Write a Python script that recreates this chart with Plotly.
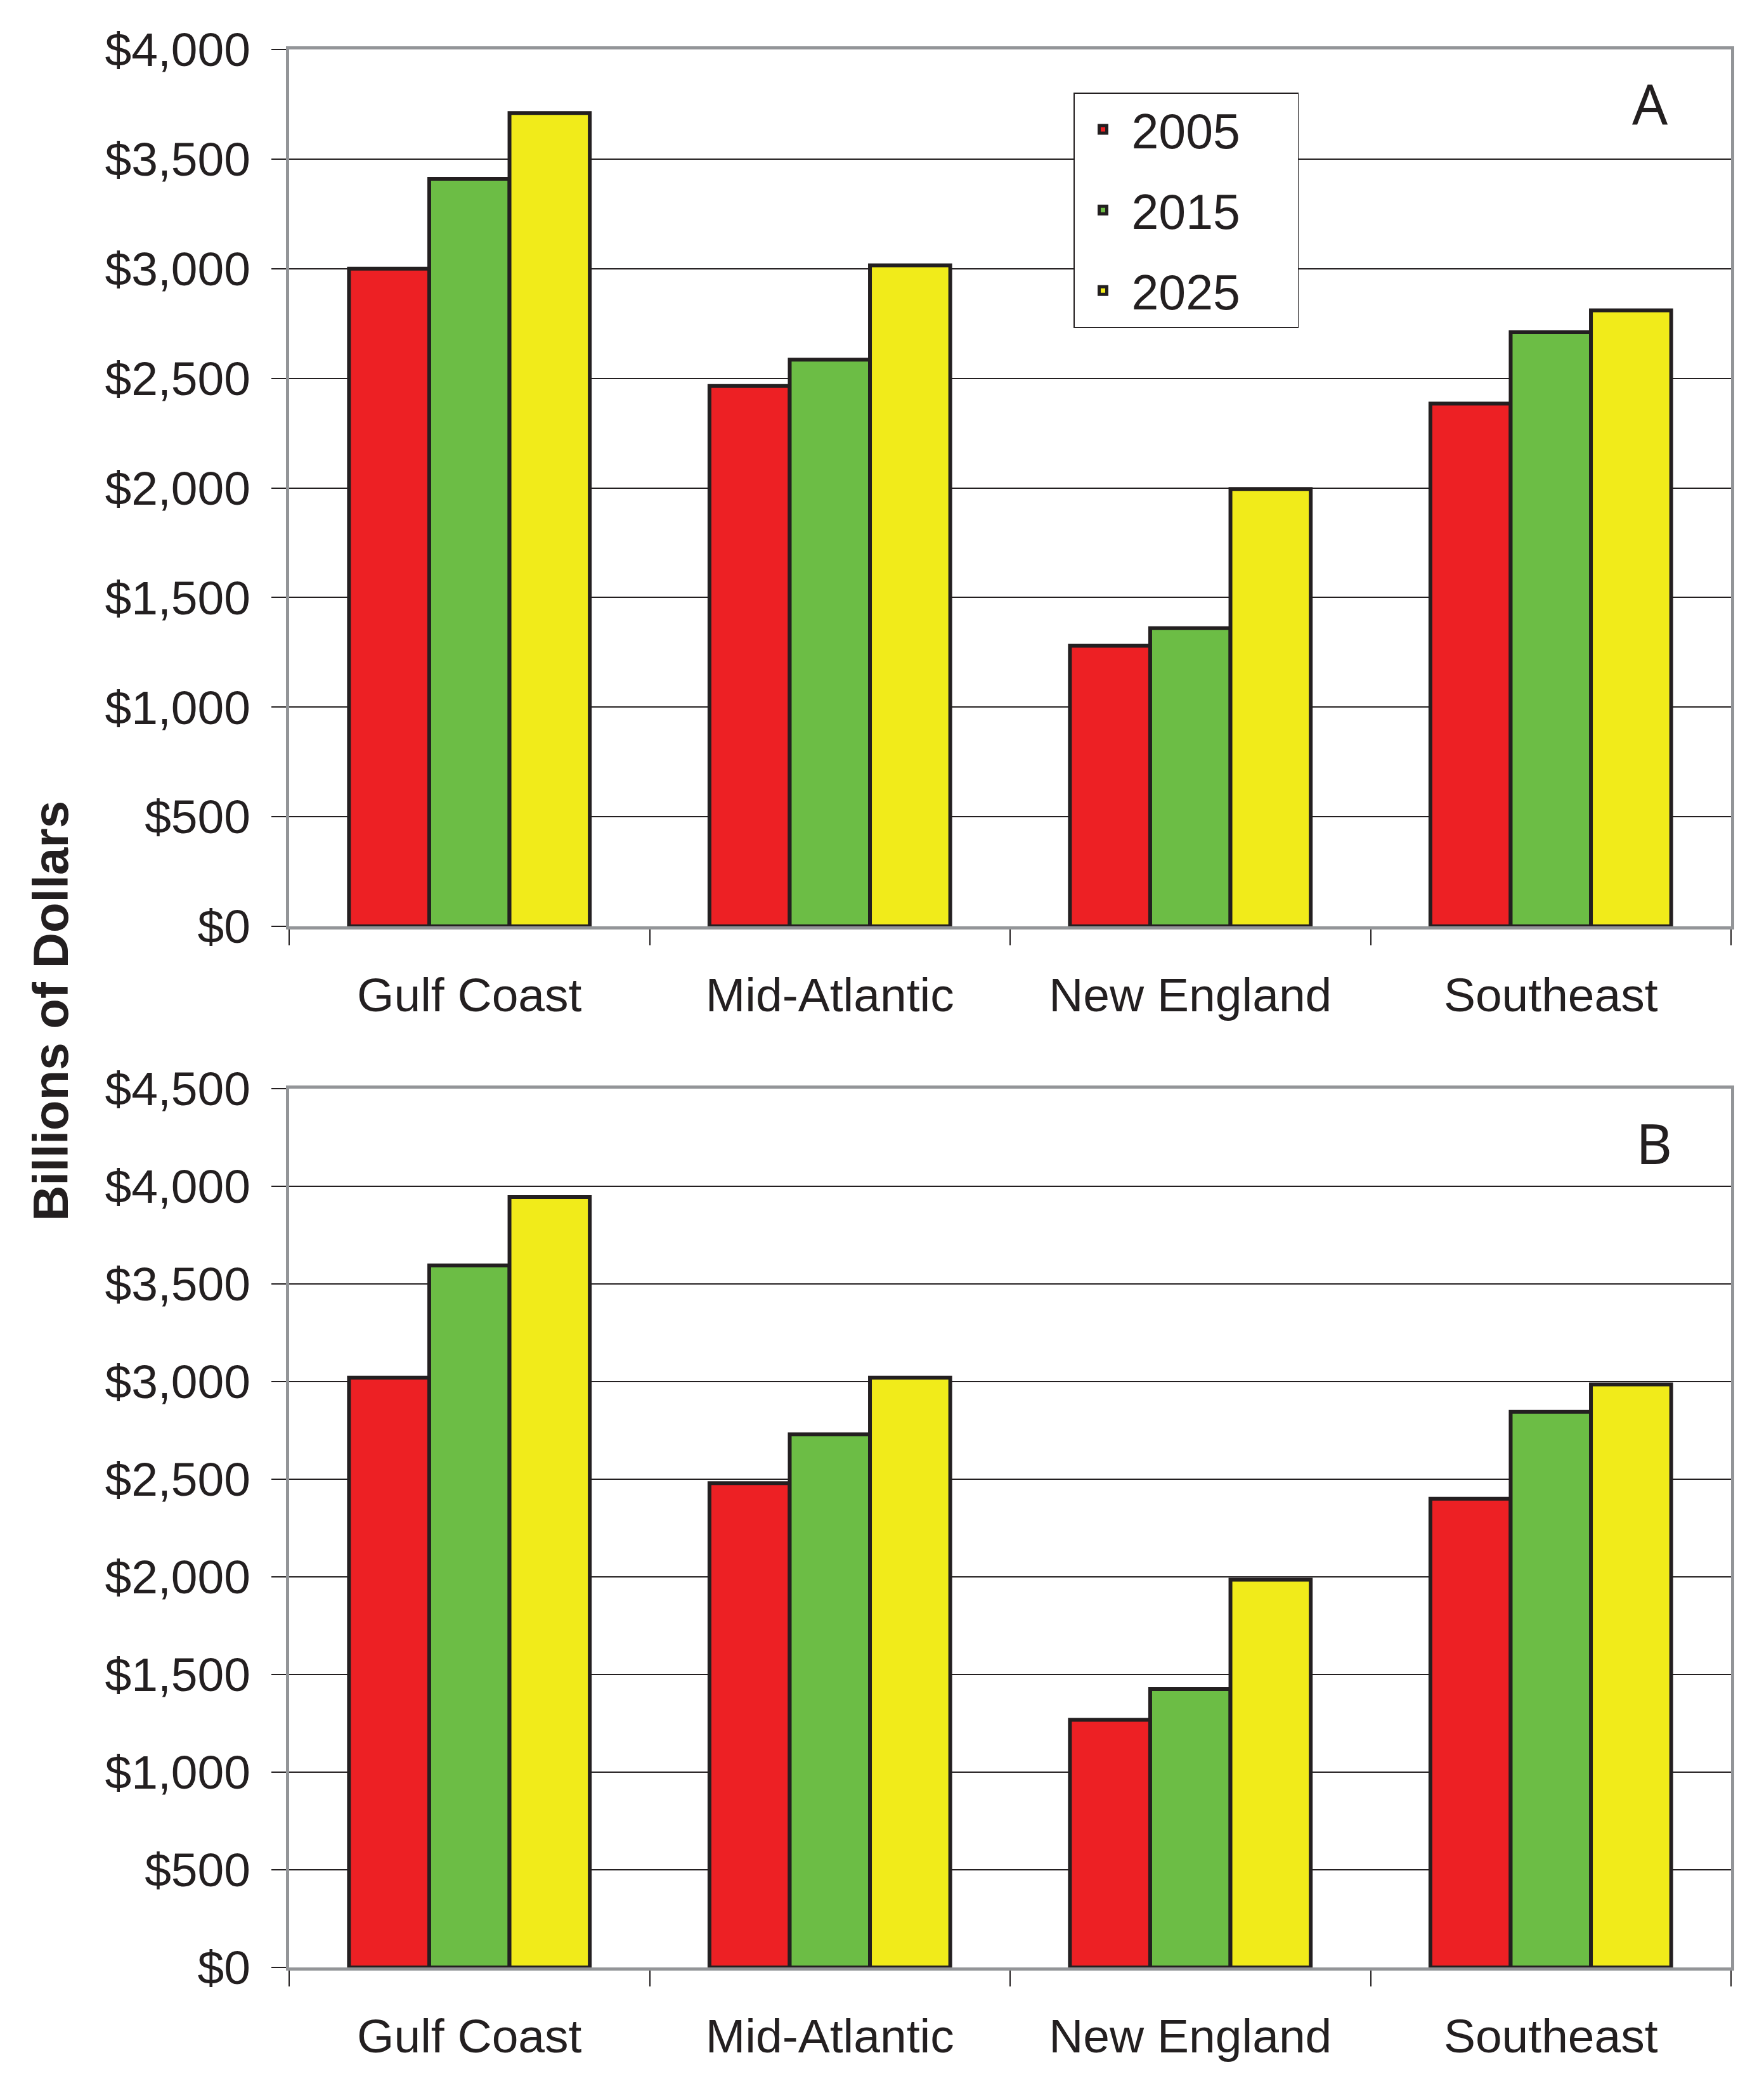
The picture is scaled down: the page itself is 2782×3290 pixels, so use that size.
import plotly.graph_objects as go

# ---- data ----
regions = ["Gulf Coast", "Mid-Atlantic", "New England", "Southeast"]
years = ["2005", "2015", "2025"]

panel_a_2005 = [3000, 2465, 1280, 2385]
panel_a_2015 = [3410, 2585, 1360, 2710]
panel_a_2025 = [3710, 3015, 1995, 2810]

panel_b_2005 = [3020, 2480, 1268, 2400]
panel_b_2015 = [3595, 2730, 1425, 2845]
panel_b_2025 = [3945, 3020, 1985, 2985]

panel_labels = ["A", "B"]
y_title = "Billions of Dollars"
y_max_a = 4000
y_max_b = 4500
y_step = 500

colors = ["#ED2024", "#6CBD45", "#F1EB1A"]
INK = "#231F20"
FRAME = "#939598"
FONT = "Liberation Sans, Arial, sans-serif"

fig = go.Figure()

panel_a = [panel_a_2005, panel_a_2015, panel_a_2025]
panel_b = [panel_b_2005, panel_b_2015, panel_b_2025]

for yr, vals, col in zip(years, panel_a, colors):
    fig.add_trace(go.Bar(
        x=regions, y=vals, name=yr + "\u00a0\u00a0\u00a0\u00a0",
        marker=dict(color=col, line=dict(color=INK, width=6)),
        xaxis="x", yaxis="y", legendgroup=yr, showlegend=True,
    ))
for yr, vals, col in zip(years, panel_b, colors):
    fig.add_trace(go.Bar(
        x=regions, y=vals, name=yr,
        marker=dict(color=col, line=dict(color=INK, width=6)),
        xaxis="x2", yaxis="y2", legendgroup=yr, showlegend=False,
    ))

W, H = 2782, 3290
x_dom = [456 / W, 2730 / W]
ya_dom = [1 - 1461 / H, 1 - 78 / H]
yb_dom = [1 - 3103 / H, 1 - 1717 / H]

xaxis_common = dict(
    type="category", categoryorder="array", categoryarray=regions,
    domain=x_dom, showline=True, linecolor=FRAME, linewidth=5, mirror=True,
    ticks="outside", tickson="boundaries", ticklen=25, tickwidth=1.5, tickcolor=INK,
    tickfont=dict(family=FONT, size=75, color=INK), ticklabelstandoff=39,
    showgrid=False, automargin=False, fixedrange=True,
)
yaxis_common = dict(
    dtick=y_step, tick0=0, tickprefix="$", tickformat=",d",
    showline=True, linecolor=FRAME, linewidth=5, mirror=True,
    ticks="outside", ticklen=23, tickwidth=1.5, tickcolor=INK,
    tickfont=dict(family=FONT, size=75, color=INK), ticklabelstandoff=18,
    showgrid=True, gridcolor=INK, gridwidth=1.5, zeroline=False,
    automargin=False, fixedrange=True,
)

fig.update_layout(
    width=W, height=H,
    margin=dict(l=0, r=0, t=0, b=0),
    paper_bgcolor="white", plot_bgcolor="white",
    barmode="group", bargap=0.332, bargroupgap=0,
    xaxis=dict(xaxis_common, anchor="y"),
    xaxis2=dict(xaxis_common, anchor="y2"),
    yaxis=dict(yaxis_common, domain=ya_dom, range=[0, y_max_a], anchor="x"),
    yaxis2=dict(yaxis_common, domain=yb_dom, range=[0, y_max_b], anchor="x2"),
    legend=dict(
        x=1693 / W, y=1 - 146 / H, xanchor="left", yanchor="top",
        bgcolor="white", bordercolor=INK, borderwidth=1.5,
        font=dict(family=FONT, size=77, color=INK),
        itemwidth=80, tracegroupgap=24, traceorder="grouped",
    ),
    annotations=[
        dict(text=panel_labels[0], xref="paper", yref="paper", x=2602 / W, y=1 - 162 / H,
             showarrow=False, xanchor="center", yanchor="middle",
             font=dict(family="Noto Sans, Open Sans, sans-serif", size=88, color=INK)),
        dict(text=panel_labels[1], xref="paper", yref="paper", x=2608 / W, y=1 - 1802 / H,
             showarrow=False, xanchor="center", yanchor="middle",
             font=dict(family="Noto Sans, Open Sans, sans-serif", size=88, color=INK)),
        dict(text="<b>" + y_title + "</b>", xref="paper", yref="paper", x=80 / W, y=1 - 1595 / H,
             showarrow=False, xanchor="center", yanchor="middle", textangle=-90,
             font=dict(family=FONT, size=78, color=INK)),
    ],
)

fig.write_html("out.html", include_plotlyjs=True, full_html=True,
               config={"displayModeBar": False},
               post_script="document.body.style.margin='0';document.body.style.overflow='hidden';")
